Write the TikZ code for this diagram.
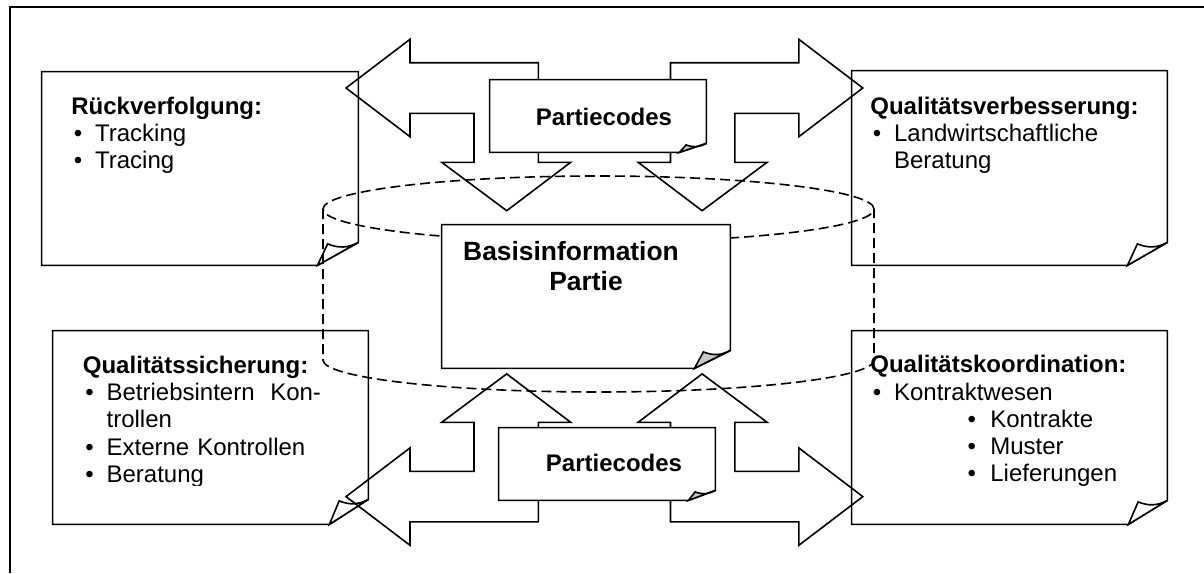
\documentclass[tikz,border=0pt]{standalone}
\usepackage{fontspec}
\setmainfont{Liberation Sans}
\usetikzlibrary{calc,positioning}

\definecolor{flapgrey}{RGB}{200,200,200}
\tikzset{
  notebody/.style={rectangle, inner sep=0pt, draw=none},
  noteline/.style={line width=0.8pt, line join=miter},
  notetext/.style={inner sep=0pt, align=left, text width=150pt, font=\fontsize{12}{13.65}\selectfont},
  codetext/.style={inner sep=0pt, font=\fontsize{12}{14}\selectfont\bfseries},
  basistext/.style={inner sep=0pt, font=\fontsize{13.2}{15.35}\selectfont\bfseries},
  blockarrow/.style={line width=0.8pt, line join=miter},
  cylline/.style={line width=0.8pt, dash pattern=on 5pt off 2.5pt},
}
\newcommand{\bul}{\hspace*{1.2pt}\makebox[10.65pt][l]{\textbullet}}
\newcommand{\subbul}{\hspace*{48.6pt}\makebox[11.4pt][l]{\textbullet}}
% sheet with curled corner: node, fold width, fold height, flap colour
\newcommand{\notefold}[4]{%
  \draw[noteline, fill=white] (#1.north west) -- (#1.north east)
    -- ($(#1.south east)+(0,-#3)$) -- ($(#1.south east)+(-#2,0)$)
    -- (#1.south west) -- cycle;
  \draw[noteline, fill=#4] ($(#1.south east)+(-#2,0)$)
    -- ($(#1.south east)+({-0.75*#2},{-#3+1.5})$)
    to[bend right=25] ($(#1.south east)+(0,-#3)$) -- cycle;
}

\begin{document}
\begin{tikzpicture}[x=0.5pt, y=-0.5pt]
\useasboundingbox (0,0) rectangle (1204,573);
\draw[line width=1pt] (10,573) -- (10,7.3) -- (1204,7.3);

% the four sheets
\node[notebody, minimum width=158pt, minimum height=96.5pt] (rueck) at (200,168.5) {};
\node[notebody, minimum width=157.5pt, minimum height=97pt] (verbess) at (1009.5,168) {};
\node[notebody, minimum width=157.5pt, minimum height=96.5pt] (sicher) at (210.5,427.5) {};
\node[notebody, minimum width=157.5pt, minimum height=96.5pt] (koord) at (1009.5,427.5) {};
\notefold{rueck}{41}{23}{white}
\notefold{verbess}{40}{23}{white}
\notefold{sicher}{39}{25}{white}
\notefold{koord}{39}{24}{white}

\node[notetext, anchor=base west] (rueckT) at (71,114)
  {\textbf{Rückverfolgung:}\\\bul Tracking\\\bul Tracing};
\node[notetext, anchor=base west] (verbessT) at (870,114)
  {\textbf{Qualitätsverbesserung:}\\\bul Landwirtschaftliche\\\hspace*{11.85pt}Beratung};
\begin{scope}
\clip (0,0) rectangle (1204,485.5);
\node[notetext, anchor=base west] (sicherT) at (82.5,373.3)
  {\textbf{Qualitätssicherung:}\\\bul\makebox[107.2pt][l]{Betriebsintern\hfill Kon-}\\\hspace*{11.85pt}trollen\\\bul Externe Kontrollen\\\bul Beratung};
\node[notetext, anchor=base west] (koordT) at (870,372.7)
  {\textbf{Qualitätskoordination:}\\\bul Kontraktwesen\\\subbul Kontrakte\\\subbul Muster\\\subbul Lieferungen};
\end{scope}

% bent block arrows
\foreach \sx/\sy in {1/1,-1/1,1/-1,-1/-1}
  \draw[blockarrow, shift={(604.4,292.3)}, xscale=\sx, yscale=\sy]
    (-258.4,-204.3) -- (-194.4,-253) -- (-194.4,-229.6) -- (-66.1,-229.6)
    -- (-66.1,-130) -- (-33.7,-130) -- (-97.7,-81.6) -- (-162.7,-130)
    -- (-130.4,-130) -- (-130.4,-179) -- (-194.4,-179) -- (-194.4,-155.6) -- cycle;

% dashed barrel
\coordinate (cyltop) at (598.5,209);
\coordinate (cylleft) at (323,209);
\coordinate (cylright) at (874,209);
\draw[cylline] (cyltop) ellipse [x radius=137.75pt, y radius=16.5pt];
\draw[cylline] (cylleft) -- ++(0,151)
  arc[start angle=180, end angle=360, x radius=137.75pt, y radius=16pt] -- (cylright);

% centre sheet
\node[notebody, minimum width=144pt, minimum height=71.5pt] (basis) at (586,296.5) {};
\notefold{basis}{36}{18}{flapgrey}
\node[basistext, anchor=base] (basisT) at (571,260) {Basisinformation};
\node[basistext, anchor=base] (partieT) at (586,290.7) {Partie};

% code labels
\node[notebody, minimum width=108pt, minimum height=36pt] (codesoben) at (598,116) {};
\notefold{codesoben}{27}{9}{flapgrey}
\node[codetext, anchor=base] (codesobenT) at (604,125) {Partiecodes};
\node[notebody, minimum width=108pt, minimum height=36pt] (codesunten) at (607,464) {};
\notefold{codesunten}{27}{10}{flapgrey}
\node[codetext, anchor=base] (codesuntenT) at (614,471.7) {Partiecodes};
\end{tikzpicture}
\end{document}
